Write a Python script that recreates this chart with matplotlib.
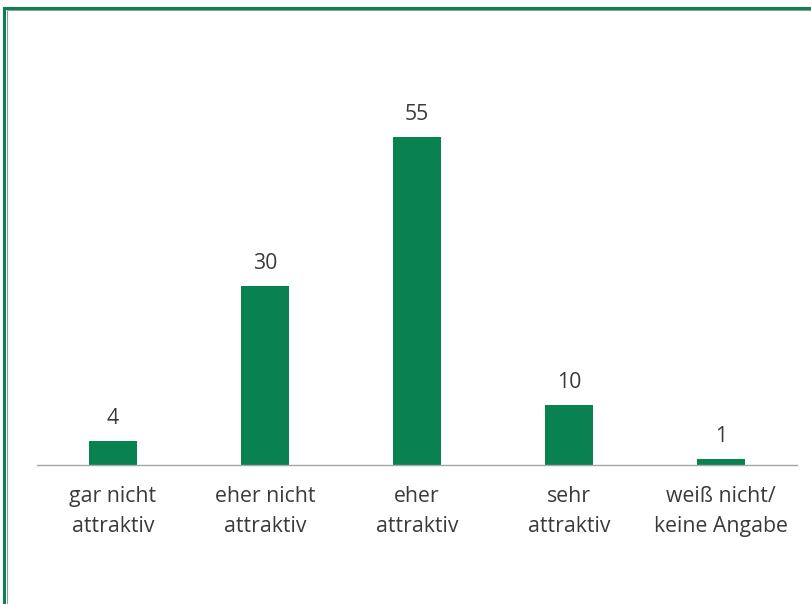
import matplotlib
matplotlib.use("Agg")
import matplotlib.pyplot as plt
from matplotlib.patches import Rectangle

categories = ["gar nicht\nattraktiv", "eher nicht\nattraktiv", "eher\nattraktiv",
              "sehr\nattraktiv", "weiß nicht/\nkeine Angabe"]
values = [4, 30, 55, 10, 1]

plt.rcParams['font.family'] = ['Open Sans', 'DejaVu Sans']

W, H = 812, 604
fig = plt.figure(figsize=(W / 100, H / 100), dpi=100)

# axes placement in pixels
x0, x1 = 37, 797
ybase = 465
ytop = ybase - 60 * 5.96
ax = fig.add_axes([x0 / W, 1 - ybase / H, (x1 - x0) / W, (ybase - ytop) / H])

green = "#0a8150"
text_col = "#3a3a3a"
x = list(range(len(values)))
bars = ax.bar(x, values, width=0.32, color=green, zorder=2)
ax.set_xlim(-0.5, len(values) - 0.5)
ax.set_ylim(0, 60)

for xi, v in zip(x, values):
    ax.annotate(str(v), (xi, v), xytext=(0, 9), textcoords="offset points",
                ha="center", va="bottom", fontsize=15.3, color=text_col)

ax.set_xticks(x)
ax.set_xticklabels(categories, fontsize=15.3, color=text_col, linespacing=1.55)
ax.tick_params(axis='x', length=0, pad=15)
ax.set_yticks([])
for s in ["top", "right", "left"]:
    ax.spines[s].set_visible(False)
ax.spines["bottom"].set_color("#a6a6a6")
ax.spines["bottom"].set_linewidth(1.0)

# outer frame (green with grey inner line), cropped on right/bottom
fig.patches.append(Rectangle((4 / W, -0.1), 1.2, 1 - 8 / H + 0.1,
                             transform=fig.transFigure, fill=False,
                             edgecolor=green, linewidth=2.2))
fig.patches.append(Rectangle((6.5 / W, -0.1), 1.2, 1 - 10.5 / H + 0.1,
                             transform=fig.transFigure, fill=False,
                             edgecolor="#9a9a9a", linewidth=0.8))

fig.savefig("out.png", dpi=100)
